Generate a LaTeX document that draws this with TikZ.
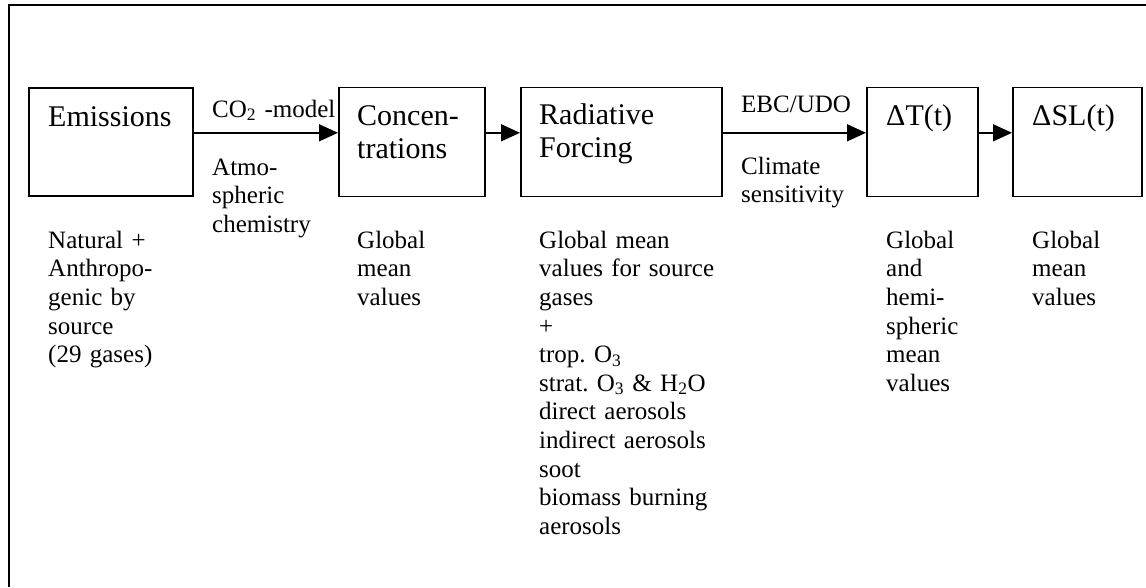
\documentclass[tikz,border=0pt]{standalone}
\usepackage{fontspec}
\setmainfont{Liberation Serif}
\usetikzlibrary{arrows.meta}
\newcommand\bigf{\fontsize{30}{33.5}\selectfont\frenchspacing}
\newcommand\smf{\fontsize{25}{28.6}\selectfont\frenchspacing}
\begin{document}
\begin{tikzpicture}[x=1pt,y=-1pt,
  box/.style={draw, line width=1.6pt, anchor=north west, inner sep=0pt},
  ttl/.style={anchor=north west, inner sep=0pt, font=\bigf, align=left, text width=150pt},
  lbl/.style={anchor=north west, inner sep=0pt, font=\smf, align=left, text width=220pt},
  arr/.style={line width=1.5pt, -{Triangle[length=19pt,width=17pt]}},
  frame/.style={line width=1.8pt}]
\useasboundingbox (0,0) rectangle (1146,587);
% outer frame (clipped by the page)
\coordinate (fbl) at (9,587);
\coordinate (ftl) at (9,5);
\coordinate (ftr) at (1146,5);
\draw[frame] (fbl) -- (ftl) -- (ftr);
% boxes
\node[box, minimum width=164pt, minimum height=108pt] (em) at (28,87) {};
\node[box, minimum width=146pt, minimum height=109pt] (conc) at (338,86.5) {};
\node[box, minimum width=201pt, minimum height=109pt] (rf) at (520,86.5) {};
\node[box, minimum width=111pt, minimum height=109pt] (dt) at (866,86.5) {};
\node[box, minimum width=129pt, minimum height=109pt] (dsl) at (1012,86.5) {};
% arrows
\draw[arr] ([yshift=9pt]em.east) -- ([yshift=9pt]conc.west);
\draw[arr] ([yshift=9pt]conc.east) -- ([yshift=9pt]rf.west);
\draw[arr] ([yshift=9pt]rf.east) -- ([yshift=9pt]dt.west);
\draw[arr] ([yshift=9pt]dt.east) -- ([yshift=9pt]dsl.west);
% titles
\node[ttl] (tem) at (48,102.5) {\strut Emissions};
\node[ttl] (tconc) at (357,101.5) {\strut Concen-\\trations};
\node[ttl] (trf) at (539,100.5) {\strut Radiative\\Forcing};
\node[ttl] (tdt) at (886,101.5) {\strut ΔT(t)};
\node[ttl] (tdsl) at (1032,101.5) {\strut ΔSL(t)};
% edge labels
\node[lbl] (co2) at (212,97) {\strut CO\textsubscript{2} -model};
\node[lbl] (atm) at (212,155) {\strut Atmo-\\spheric\\chemistry};
\node[lbl] (ebc) at (741,92) {\strut EBC/UDO};
\node[lbl] (clim) at (741,154) {\strut Climate\\sensitivity};
% bottom descriptions
\node[lbl] (dem) at (48,228) {\strut Natural +\\Anthropo-\\genic by\\source\\(29 gases)};
\node[lbl] (dconc) at (357,228) {\strut Global\\mean\\values};
\node[lbl] (drf) at (539,228) {\strut Global mean\\values for source\\gases\\+\\trop. O\textsubscript{3}\\strat. O\textsubscript{3} \& H\textsubscript{2}O\\direct aerosols\\indirect aerosols\\soot\\biomass burning\\aerosols};
\node[lbl] (ddt) at (886,228) {\strut Global\\and\\hemi-\\spheric\\mean\\values};
\node[lbl] (ddsl) at (1032,228) {\strut Global\\mean\\values};
\end{tikzpicture}
\end{document}
